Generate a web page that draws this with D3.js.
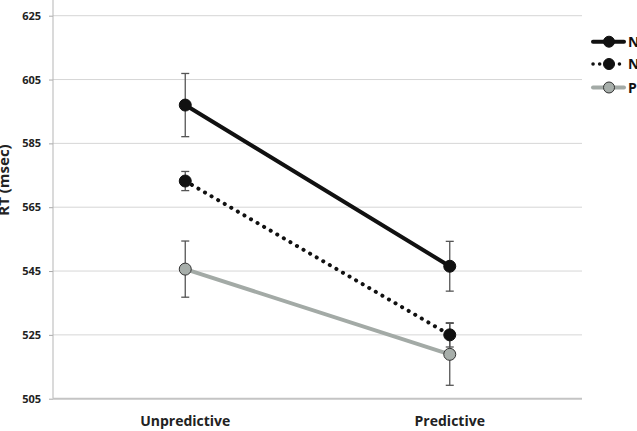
<!DOCTYPE html>
<html>
<head>
<meta charset="utf-8">
<script src="https://cdn.jsdelivr.net/npm/d3@7"></script>
<style>
  body { margin: 0; background: #fff; }
  svg { display: block; font-family: "Open Sans", "Liberation Sans", sans-serif; }
</style>
</head>
<body>
<div id="chart"></div>
<script>
var categories = ["Unpredictive", "Predictive"];
var yTicks = [505, 525, 545, 565, 585, 605, 625];
var seriesNames = ["N", "N", "P"];
var seriesMeans = [[597, 546.5], [573.2, 525], [545.6, 518.9]];
var seriesErrors = [[9.9, 7.8], [3, 3.8], [8.8, 9.7]];

var width = 637, height = 431;
var svg = d3.select("#chart").append("svg")
    .attr("width", width)
    .attr("height", height);

var margin = {top: 15.7, right: 55, bottom: 32.3, left: 53};
var x = d3.scaleBand()
    .domain(categories)
    .range([margin.left, width - margin.right]);
var y = d3.scaleLinear()
    .domain([505, 625])
    .range([height - margin.bottom, margin.top]);

// gridlines
svg.append("g").selectAll("line")
    .data(yTicks.slice(1))
    .enter().append("line")
      .attr("x1", margin.left)
      .attr("x2", width - margin.right)
      .attr("y1", function(d){ return y(d); })
      .attr("y2", function(d){ return y(d); })
      .attr("stroke", "#d6d6d6")
      .attr("stroke-width", 1);

// y axis
var yAxis = d3.axisLeft(y).tickValues(yTicks).tickSize(4).tickPadding(8);
var gy = svg.append("g")
    .attr("transform", "translate(" + margin.left + ",0)")
    .call(yAxis);
gy.select(".domain").remove();
gy.selectAll(".tick line").attr("stroke", "#aaa");
gy.selectAll(".tick text")
    .attr("font-size", 11)
    .attr("font-weight", "bold")
    .attr("fill", "#222")
    .attr("font-family", "Open Sans, sans-serif");
svg.append("line")
    .attr("x1", margin.left).attr("x2", margin.left)
    .attr("y1", 0).attr("y2", y(505))
    .attr("stroke", "#b5b5b5").attr("stroke-width", 1);

// x axis line
svg.append("line")
    .attr("x1", margin.left).attr("x2", width - margin.right)
    .attr("y1", y(505)).attr("y2", y(505))
    .attr("stroke", "#c4c4c4").attr("stroke-width", 2);

svg.append("g").selectAll("text")
    .data(categories)
    .enter().append("text")
      .attr("x", function(d){ return x(d) + x.bandwidth() / 2; })
      .attr("y", 426)
      .attr("text-anchor", "middle")
      .attr("font-size", 14)
      .attr("font-weight", "bold")
      .attr("fill", "#222")
      .text(function(d){ return d; });

svg.append("text")
    .attr("transform", "translate(9,180) rotate(-90)")
    .attr("text-anchor", "middle")
    .attr("font-size", 15)
    .attr("font-weight", "bold")
    .attr("fill", "#222")
    .text("RT (msec)");

var styles = [
  {stroke: "#111", dash: null, fill: "#111", mstroke: "#111"},
  {stroke: "#111", dash: "0.1,7.5", fill: "#111", mstroke: "#111"},
  {stroke: "#a3aaa6", dash: null, fill: "#a7aeaa", mstroke: "#333"}
];

var cx = function(i){ return x(categories[i]) + x.bandwidth() / 2; };

var line = d3.line()
    .x(function(d, i){ return cx(i); })
    .y(function(d){ return y(d); });

// draw series back to front: gray, dotted, solid
[2, 1, 0].forEach(function(s){
  var st = styles[s];
  var g = svg.append("g");
  g.append("path")
      .attr("d", line(seriesMeans[s]))
      .attr("fill", "none")
      .attr("stroke", st.stroke)
      .attr("stroke-width", 4)
      .attr("stroke-linecap", "round")
      .attr("stroke-dasharray", st.dash);
  seriesMeans[s].forEach(function(m, i){
    var e = seriesErrors[s][i];
    var xx = cx(i);
    g.append("line")
        .attr("x1", xx).attr("x2", xx)
        .attr("y1", y(m + e)).attr("y2", y(m - e))
        .attr("stroke", "#555").attr("stroke-width", 1.3);
    [m + e, m - e].forEach(function(v){
      g.append("line")
          .attr("x1", xx - 4).attr("x2", xx + 4)
          .attr("y1", y(v)).attr("y2", y(v))
          .attr("stroke", "#555").attr("stroke-width", 1.3);
    });
    g.append("circle")
        .attr("cx", xx).attr("cy", y(m))
        .attr("r", 6)
        .attr("fill", st.fill)
        .attr("stroke", st.mstroke)
        .attr("stroke-width", 1);
  });
});

// legend
var legY = [41.7, 64, 87.5];
var leg = svg.append("g").selectAll("g")
    .data(seriesNames)
    .enter().append("g")
      .attr("transform", function(d, i){ return "translate(0," + legY[i] + ")"; });
leg.append("line")
    .attr("x1", 593).attr("x2", 624)
    .attr("stroke", function(d, i){ return styles[i].stroke; })
    .attr("stroke-width", function(d, i){ return i == 1 ? 3.5 : 4; })
    .attr("stroke-linecap", "round")
    .attr("stroke-dasharray", function(d, i){ return i == 1 ? "0.1,6.5" : null; });
leg.append("circle")
    .attr("cx", 609).attr("r", 5.5)
    .attr("fill", function(d, i){ return styles[i].fill; })
    .attr("stroke", function(d, i){ return styles[i].mstroke; });
leg.append("text")
    .attr("x", 628).attr("y", 5)
    .attr("font-size", 14)
    .attr("font-weight", "bold")
    .attr("fill", "#111")
    .text(function(d){ return d; });
</script>
</body>
</html>
